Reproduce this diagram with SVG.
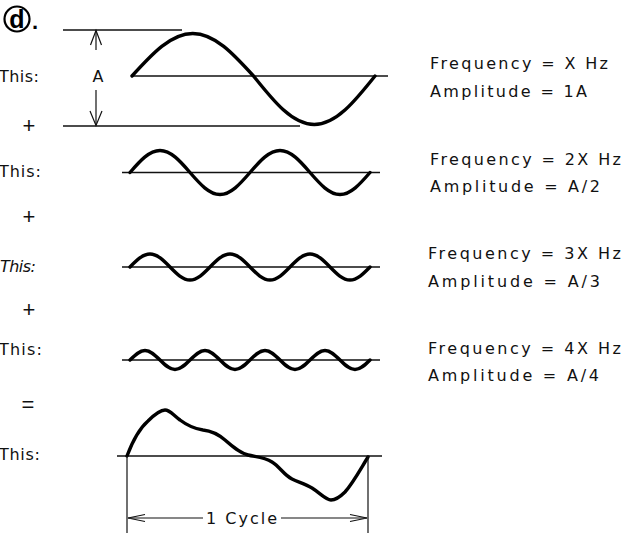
<svg xmlns="http://www.w3.org/2000/svg" width="626" height="536" viewBox="0 0 626 536">
<defs>
<style>
.t{font-family:"DejaVu Sans","Liberation Sans",Arial,sans-serif;font-size:16px;fill:#111}
.op{font-family:"Liberation Sans",Arial,sans-serif;font-size:22px;fill:#111;text-anchor:middle}
.wave{fill:none;stroke:#000;stroke-width:3.4;stroke-linecap:round;stroke-linejoin:round}
.base{fill:none;stroke:#111;stroke-width:1.3}
.thin{fill:none;stroke:#111;stroke-width:1.2}
</style>
</defs>
<rect width="626" height="536" fill="#fff"/>

<g id="title">
<circle cx="17" cy="19" r="12.5" fill="none" stroke="#000" stroke-width="2.2"/>
<text x="17" y="28" font-family="Liberation Sans,Arial,sans-serif" font-size="25" font-weight="bold" text-anchor="middle" fill="#000">d</text>
<text x="32" y="29" font-family="Liberation Sans,Arial,sans-serif" font-size="22" font-weight="bold" fill="#000">.</text>
</g>

<g id="wave1">
<line class="base" x1="63" y1="30" x2="182" y2="30"/>
<line class="base" x1="132" y1="76" x2="388" y2="76"/>
<line class="base" x1="63" y1="126" x2="300" y2="126"/>
<path class="wave" d="M132,76 c20.29,-22.31 38.88,-42.5 60.75,-42.5 c21.87,0 40.46,20.19 60.75,42.5 c20.29,25.46 38.88,48.5 60.75,48.5 c21.87,0 40.46,-23.04 60.75,-48.5"/>
<text class="t" x="-1" y="82" textLength="40" lengthAdjust="spacing">This:</text>
<text class="t" x="98" y="82" text-anchor="middle">A</text>
<text class="t" x="430" y="69" textLength="178" lengthAdjust="spacing">Frequency = X Hz</text>
<text class="t" x="430" y="97" textLength="157" lengthAdjust="spacing">Amplitude = 1A</text>
</g>

<g id="plus1"><text class="op" x="29" y="133">+</text></g>

<g id="wave2">
<line class="base" x1="122" y1="172.5" x2="380" y2="172.5"/>
<path class="wave" d="M130,172.5 c10.02,-11.55 19.2,-22 30,-22 c10.8,0 19.98,10.45 30,22 c10.02,11.55 19.2,22 30,22 c10.8,0 19.98,-10.45 30,-22 c10.02,-11.55 19.2,-22 30,-22 c10.8,0 19.98,10.45 30,22 c10.02,11.55 19.2,22 30,22 c10.8,0 19.98,-10.45 30,-22"/>
<text class="t" x="-1" y="177" textLength="42" lengthAdjust="spacing">This:</text>
<text class="t" x="430" y="165" textLength="191" lengthAdjust="spacing">Frequency = 2X Hz</text>
<text class="t" x="430" y="192" textLength="170" lengthAdjust="spacing">Amplitude = A/2</text>
</g>

<g id="plus2"><text class="op" x="29" y="224">+</text></g>

<g id="wave3">
<line class="base" x1="122" y1="267" x2="380" y2="267"/>
<path class="wave" d="M130,267 c6.68,-6.83 12.8,-13 20,-13 c7.2,0 13.32,6.18 20,13 c6.68,6.83 12.8,13 20,13 c7.2,0 13.32,-6.18 20,-13 c6.68,-6.83 12.8,-13 20,-13 c7.2,0 13.32,6.18 20,13 c6.68,6.83 12.8,13 20,13 c7.2,0 13.32,-6.18 20,-13 c6.68,-6.83 12.8,-13 20,-13 c7.2,0 13.32,6.18 20,13 c6.68,6.83 12.8,13 20,13 c7.2,0 13.32,-6.18 20,-13"/>
<text class="t" x="0" y="272" font-style="italic" textLength="36" lengthAdjust="spacing">This:</text>
<text class="t" x="428" y="259" textLength="193" lengthAdjust="spacing">Frequency = 3X Hz</text>
<text class="t" x="428" y="287" textLength="172" lengthAdjust="spacing">Amplitude = A/3</text>
</g>

<g id="plus3"><text class="op" x="29" y="317">+</text></g>

<g id="wave4">
<line class="base" x1="122" y1="360" x2="380" y2="360"/>
<path class="wave" d="M130,360 c5.01,-4.99 9.6,-9.5 15,-9.5 c5.4,0 9.99,4.51 15,9.5 c5.01,4.99 9.6,9.5 15,9.5 c5.4,0 9.99,-4.51 15,-9.5 c5.01,-4.99 9.6,-9.5 15,-9.5 c5.4,0 9.99,4.51 15,9.5 c5.01,4.99 9.6,9.5 15,9.5 c5.4,0 9.99,-4.51 15,-9.5 c5.01,-4.99 9.6,-9.5 15,-9.5 c5.4,0 9.99,4.51 15,9.5 c5.01,4.99 9.6,9.5 15,9.5 c5.4,0 9.99,-4.51 15,-9.5 c5.01,-4.99 9.6,-9.5 15,-9.5 c5.4,0 9.99,4.51 15,9.5 c5.01,4.99 9.6,9.5 15,9.5 c5.4,0 9.99,-4.51 15,-9.5"/>
<text class="t" x="-1" y="355" textLength="43" lengthAdjust="spacing">This:</text>
<text class="t" x="428" y="354" textLength="193" lengthAdjust="spacing">Frequency = 4X Hz</text>
<text class="t" x="428" y="381" textLength="171" lengthAdjust="spacing">Amplitude = A/4</text>
</g>

<g id="equals"><text class="op" x="28" y="412">=</text></g>

<g id="result">
<line class="base" x1="117" y1="456" x2="382" y2="456"/>
<path class="wave" d="M127,456 C133,440 140,428 148,421 C155,414 160,410 165,410 C170,410 173,415 180,420 C188,426 196,429 203,430 C212,431 218,434 225,440 C233,447 240,453 248,455 C256,457 264,457 272,462 C280,467 284,475 292,479 C298,482 305,484 312,488 C320,493 326,500 331,500 C336,500 340,497 345,492 C353,483 360,470 368,457"/>
<text class="t" x="-1" y="460" textLength="41" lengthAdjust="spacing">This:</text>
</g>

<g id="connectors">
<line class="thin" x1="96" y1="30.5" x2="96" y2="50"/>
<path class="thin" d="M90.5,45 L96,30.5 L101.5,45"/>
<line class="thin" x1="96" y1="90" x2="96" y2="125.5"/>
<path class="thin" d="M90,111 L96,125.5 L102,111"/>
<line class="thin" x1="127" y1="456" x2="127" y2="533"/>
<line class="thin" x1="368" y1="456" x2="368" y2="533"/>
<line class="thin" x1="128" y1="518" x2="203" y2="518"/>
<path class="thin" d="M145,514.5 L128,518 L145,521.5"/>
<line class="thin" x1="281" y1="518" x2="367" y2="518"/>
<path class="thin" d="M350,514.5 L367,518 L350,521.5"/>
<text class="t" x="206" y="524" textLength="71" lengthAdjust="spacing">1 Cycle</text>
</g>
</svg>
